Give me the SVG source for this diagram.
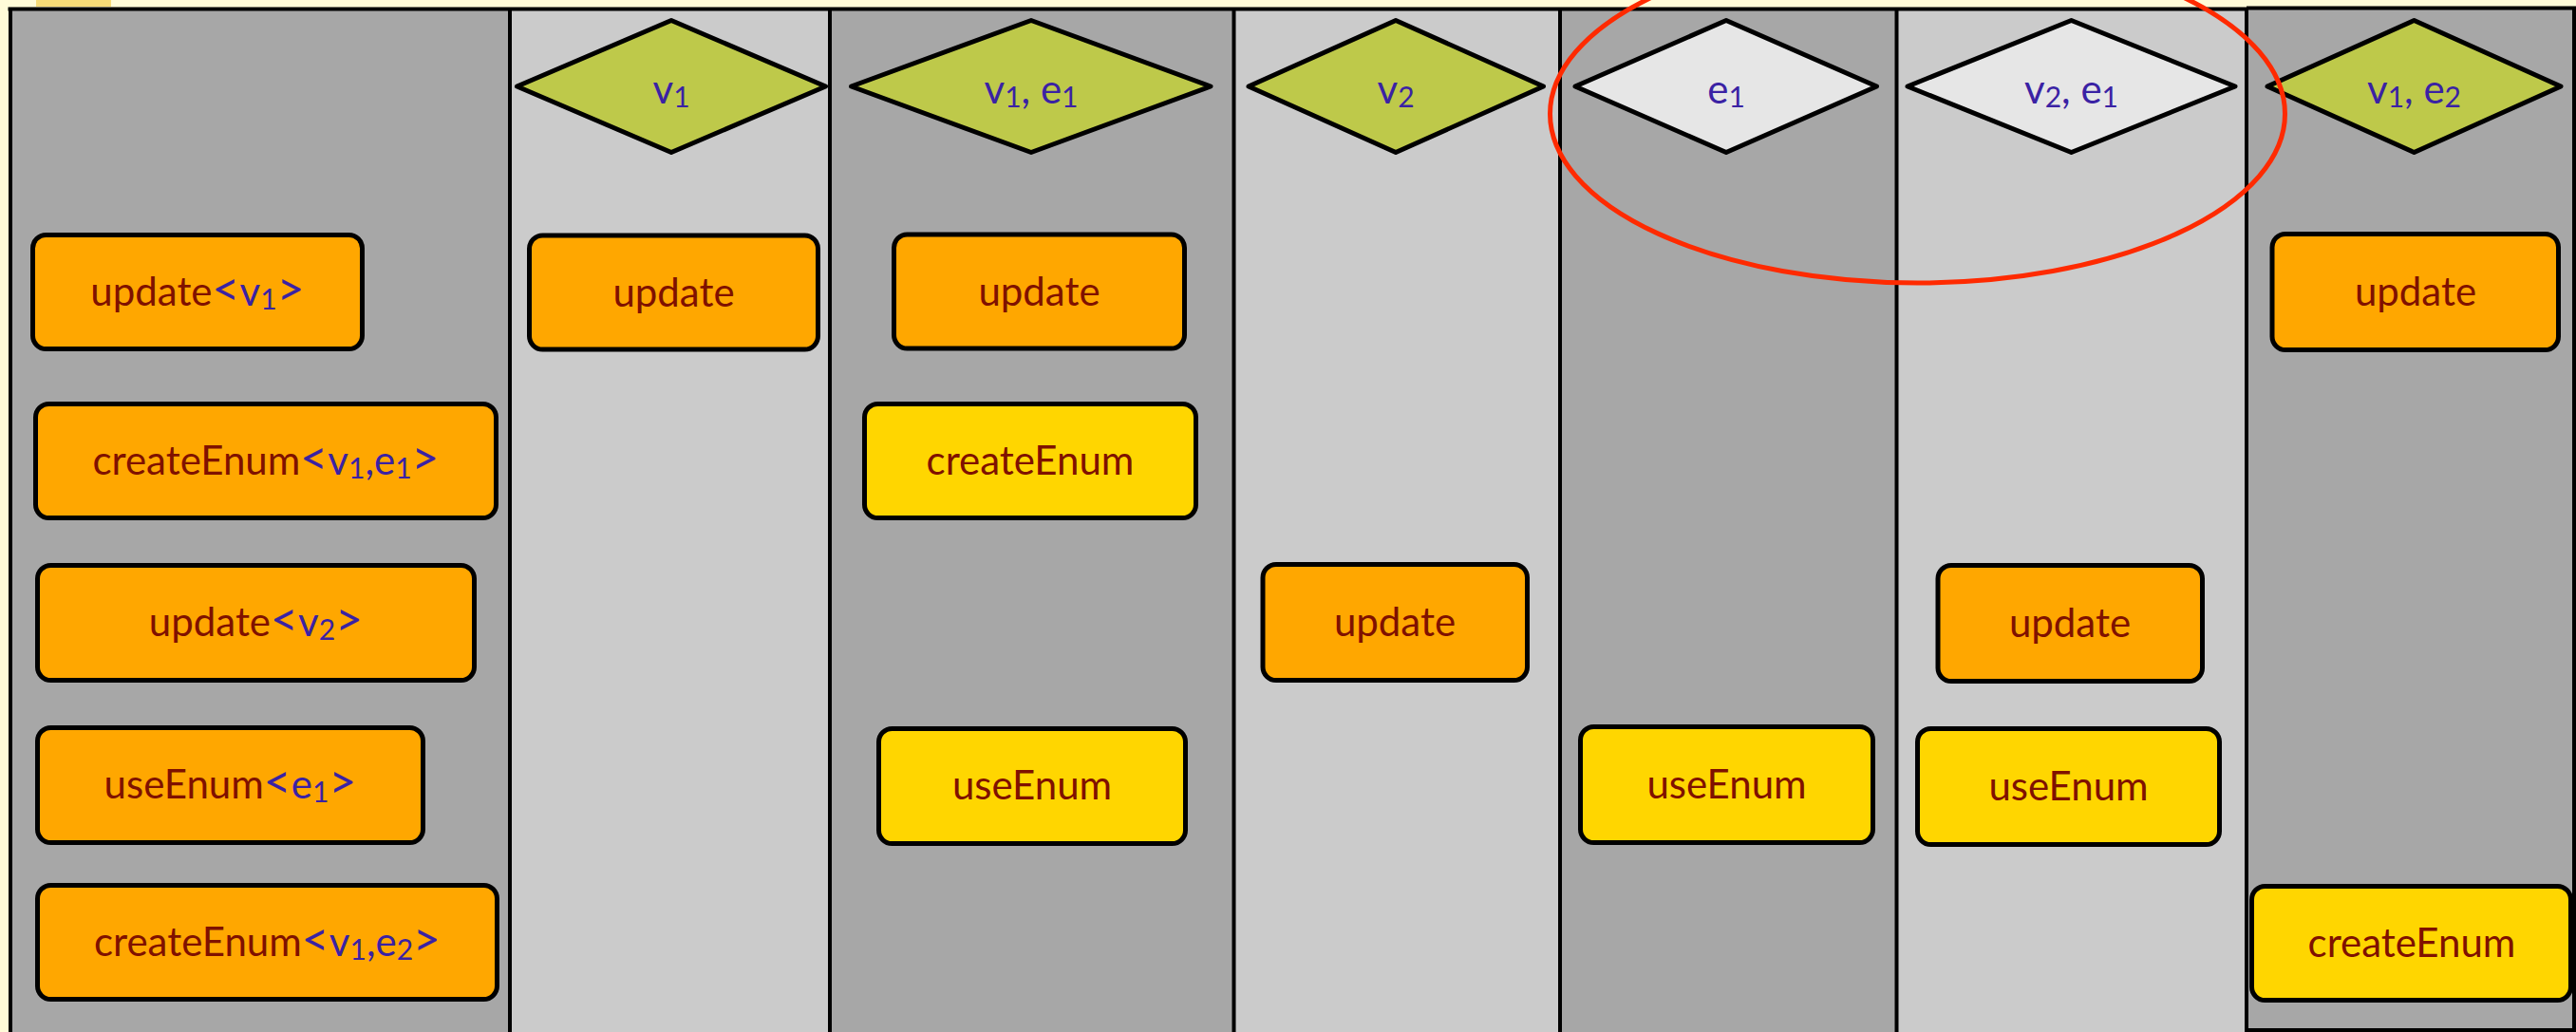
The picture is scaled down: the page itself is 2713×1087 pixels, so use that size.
<svg xmlns="http://www.w3.org/2000/svg" width="2713" height="1087" viewBox="0 0 2713 1087">
  <style>
    .dark { fill: #a7a7a7; }
    .light { fill: #cbcbcb; }
    .edge { stroke: #000; stroke-width: 4; fill: none; }
    .box { stroke: #000; stroke-width: 5; }
    .op { fill: #ffa700; }
    .gold { fill: #ffd600; }
    .dia { stroke: #000; stroke-width: 5; stroke-linejoin: round; }
    .on { fill: #bec94a; }
    .off { fill: #e6e6e6; }
    text { font-family: Lato, "Open Sans", "Liberation Sans", sans-serif; font-size: 42px; text-anchor: middle; }
    .fn { fill: #7f1100; }
    .ty { fill: #3a22a4; }
    .sub { font-size: 30px; }
    .br { font-size: 50px; }
  </style>

  <!-- page background -->
  <rect x="0" y="0" width="2713" height="1087" fill="#fffbd8"/>
  <rect x="38" y="0" width="79" height="7" fill="#f6db78"/>

  <!-- lanes -->
  <g id="lanes">
    <rect id="lane-all" class="dark" x="11" y="9.5" width="526" height="1080"/>
    <rect id="lane-v1" class="light" x="537" y="9.5" width="337" height="1080"/>
    <rect id="lane-v1e1" class="dark" x="874" y="9.5" width="425.5" height="1080"/>
    <rect id="lane-v2" class="light" x="1299.5" y="9.5" width="343.5" height="1080"/>
    <rect id="lane-e1" class="dark" x="1643" y="9.5" width="354.5" height="1080"/>
    <rect id="lane-v2e1" class="light" x="1997.5" y="9.5" width="368.5" height="1080"/>
    <rect id="lane-v1e2" class="dark" x="2366" y="8.5" width="345" height="1076.5"/>
    <path class="edge" d="M8.5 9.5 H2366 M2366 8.5 H2713"/>
    <path class="edge" d="M11 9.5 V1087"/>
    <path class="edge" stroke-width="5.5" d="M537 9.5 V1087"/>
    <path class="edge" d="M874 9.5 V1087 M1299.5 9.5 V1087 M1643 9.5 V1087 M1997.5 9.5 V1087"/>
    <path class="edge" d="M2366 8.5 V1085 H2711 V8.5"/>
  </g>

  <!-- lane 1: every operation with its type arguments -->
  <g id="op-update-v1">
    <rect class="box op" x="34.5" y="247.5" width="347" height="120" rx="14"/>
    <text x="208" y="322"><tspan class="fn">update</tspan><tspan class="ty br">&lt;</tspan><tspan class="ty">v</tspan><tspan class="ty sub" dy="4">1</tspan><tspan class="ty br" dy="-4">&gt;</tspan></text>
  </g>
  <g id="op-createEnum-v1-e1">
    <rect class="box op" x="37.5" y="425.5" width="485" height="120" rx="14"/>
    <text x="280" y="500"><tspan class="fn">createEnum</tspan><tspan class="ty br">&lt;</tspan><tspan class="ty">v</tspan><tspan class="ty sub" dy="4">1</tspan><tspan class="ty" dy="-4">,e</tspan><tspan class="ty sub" dy="4">1</tspan><tspan class="ty br" dy="-4">&gt;</tspan></text>
  </g>
  <g id="op-update-v2">
    <rect class="box op" x="39.5" y="595.5" width="460" height="121" rx="14"/>
    <text x="269.5" y="670"><tspan class="fn">update</tspan><tspan class="ty br">&lt;</tspan><tspan class="ty">v</tspan><tspan class="ty sub" dy="4">2</tspan><tspan class="ty br" dy="-4">&gt;</tspan></text>
  </g>
  <g id="op-useEnum-e1">
    <rect class="box op" x="39.5" y="766.5" width="406" height="121" rx="14"/>
    <text x="242.5" y="841"><tspan class="fn">useEnum</tspan><tspan class="ty br">&lt;</tspan><tspan class="ty">e</tspan><tspan class="ty sub" dy="4">1</tspan><tspan class="ty br" dy="-4">&gt;</tspan></text>
  </g>
  <g id="op-createEnum-v1-e2">
    <rect class="box op" x="39.5" y="932.5" width="484" height="120" rx="14"/>
    <text x="281.5" y="1007"><tspan class="fn">createEnum</tspan><tspan class="ty br">&lt;</tspan><tspan class="ty">v</tspan><tspan class="ty sub" dy="4">1</tspan><tspan class="ty" dy="-4">,e</tspan><tspan class="ty sub" dy="4">2</tspan><tspan class="ty br" dy="-4">&gt;</tspan></text>
  </g>

  <!-- type-set headers -->
  <g id="set-v1">
    <polygon class="dia on" points="544.5,91 707,21.5 869.5,91 707,160.5"/>
    <text x="707" y="109" class="ty">v<tspan class="sub" dy="4">1</tspan></text>
  </g>
  <g id="set-v1-e1">
    <polygon class="dia on" points="896.5,91 1086,21.5 1275,91 1086,160.5"/>
    <text x="1086" y="109" class="ty">v<tspan class="sub" dy="4">1</tspan><tspan dy="-4">, e</tspan><tspan class="sub" dy="4">1</tspan></text>
  </g>
  <g id="set-v2">
    <polygon class="dia on" points="1315,91 1470,21.5 1625.5,91 1470,160.5"/>
    <text x="1470" y="109" class="ty">v<tspan class="sub" dy="4">2</tspan></text>
  </g>
  <g id="set-e1">
    <polygon class="dia off" points="1659,91 1818,21.5 1976.5,91 1818,160.5"/>
    <text x="1818" y="109" class="ty">e<tspan class="sub" dy="4">1</tspan></text>
  </g>
  <g id="set-v2-e1">
    <polygon class="dia off" points="2009,91 2181.5,21.5 2354,91 2181.5,160.5"/>
    <text x="2181.5" y="109" class="ty">v<tspan class="sub" dy="4">2</tspan><tspan dy="-4">, e</tspan><tspan class="sub" dy="4">1</tspan></text>
  </g>
  <g id="set-v1-e2">
    <polygon class="dia on" points="2388,91 2542.5,21.5 2697,91 2542.5,160.5"/>
    <text x="2542.5" y="109" class="ty">v<tspan class="sub" dy="4">1</tspan><tspan dy="-4">, e</tspan><tspan class="sub" dy="4">2</tspan></text>
  </g>

  <!-- lane v1 -->
  <g id="v1-update">
    <rect class="box op" x="557.5" y="248" width="304" height="120" rx="14"/>
    <text x="709.5" y="323" class="fn">update</text>
  </g>

  <!-- lane v1, e1 -->
  <g id="v1e1-update">
    <rect class="box op" x="941.5" y="247" width="306" height="120" rx="14"/>
    <text x="1094.5" y="322" class="fn">update</text>
  </g>
  <g id="v1e1-createEnum">
    <rect class="box gold" x="910.5" y="425.5" width="349" height="120" rx="14"/>
    <text x="1085" y="500" class="fn">createEnum</text>
  </g>
  <g id="v1e1-useEnum">
    <rect class="box gold" x="925.5" y="767.5" width="323" height="121" rx="14"/>
    <text x="1087" y="842" class="fn">useEnum</text>
  </g>

  <!-- lane v2 -->
  <g id="v2-update">
    <rect class="box op" x="1330" y="594.5" width="278.5" height="122" rx="14"/>
    <text x="1469" y="670" class="fn">update</text>
  </g>

  <!-- lane e1 -->
  <g id="e1-useEnum">
    <rect class="box gold" x="1664.5" y="765.5" width="308" height="122" rx="14"/>
    <text x="1818.5" y="841" class="fn">useEnum</text>
  </g>

  <!-- lane v2, e1 -->
  <g id="v2e1-update">
    <rect class="box op" x="2041" y="595.5" width="278.5" height="122" rx="14"/>
    <text x="2180" y="671" class="fn">update</text>
  </g>
  <g id="v2e1-useEnum">
    <rect class="box gold" x="2019.5" y="767.5" width="318" height="122" rx="14"/>
    <text x="2178.5" y="843" class="fn">useEnum</text>
  </g>

  <!-- lane v1, e2 -->
  <g id="v1e2-update">
    <rect class="box op" x="2393" y="246.5" width="301.5" height="122" rx="14"/>
    <text x="2544" y="322" class="fn">update</text>
  </g>
  <g id="v1e2-createEnum">
    <rect class="box gold" x="2371.5" y="933.5" width="336" height="120" rx="14"/>
    <text x="2540" y="1008" class="fn">createEnum</text>
  </g>

  <!-- no connectors between nodes -->
  <g id="connectors"/>

  <!-- highlight around the two pale type sets -->
  <g id="highlight">
    <ellipse cx="2019.5" cy="120" rx="387" ry="178" fill="none" stroke="#ff2a00" stroke-width="5"/>
  </g>
</svg>
